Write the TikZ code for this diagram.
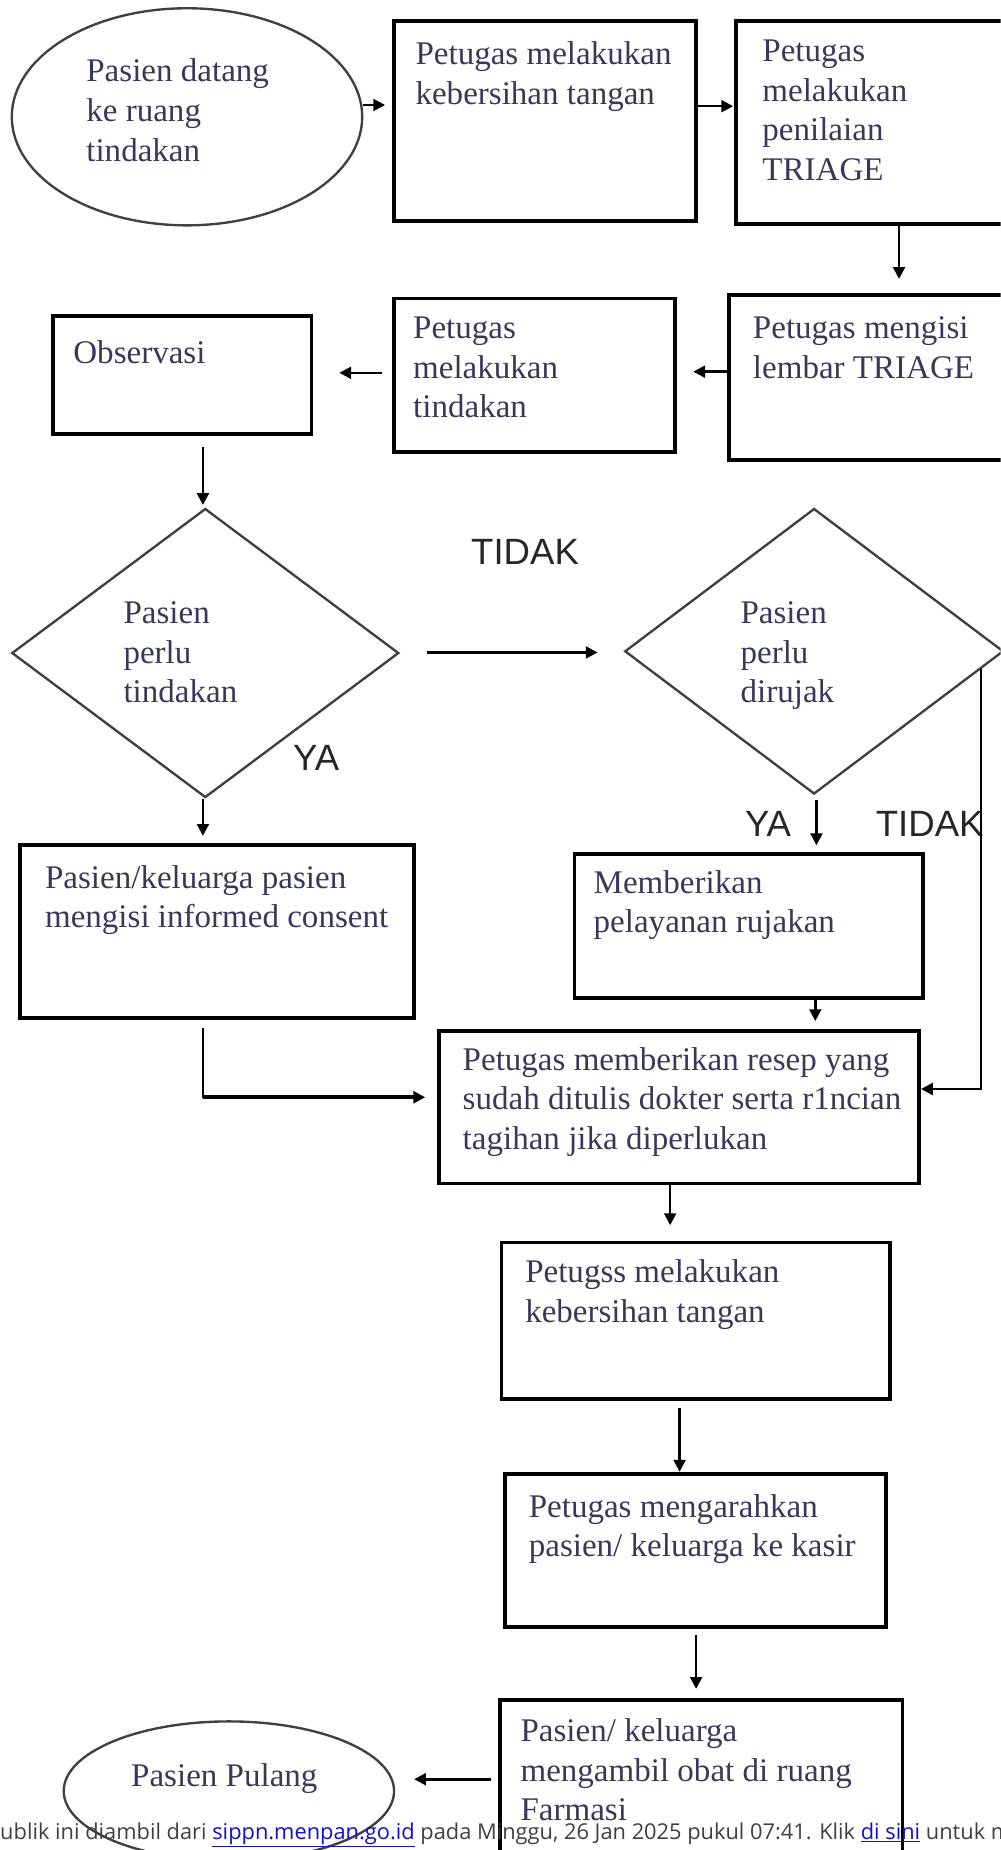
\documentclass[tikz,border=0pt]{standalone}
\usepackage{fontspec}
\setmainfont{Liberation Serif}
\newfontfamily\arialf{Liberation Sans}
\newfontfamily\footf{Open Sans}
\usetikzlibrary{shapes.geometric,arrows.meta,calc}
\definecolor{txtc}{HTML}{38385A}
\definecolor{linkc}{HTML}{1010CC}
\newcommand\ml[1]{\vtop{\halign{##\hfil\cr#1\crcr}}}
\begin{document}
\begin{tikzpicture}[x=1pt,y=-1pt,
 box/.style={draw=black,line width=3.2pt,rectangle,inner sep=0pt},
 oval/.style={draw=black!75,line width=2pt,ellipse,inner sep=0pt},
 dia/.style={draw=black!75,line width=2pt,diamond,inner sep=0pt},
 txt/.style={text=txtc,font=\fontsize{28}{33.5}\selectfont,anchor=base west,inner sep=0pt},
 lab/.style={text=black!85,font=\arialf\fontsize{31}{36}\selectfont,inner sep=0pt},
 arr/.style={line width=2.2pt,-{Triangle[length=10pt,width=10pt]}}]
\useasboundingbox (0,0) rectangle (848,1568);
\clip (0,0) rectangle (848,1568);
% shapes
\node[oval,minimum width=297pt,minimum height=184pt] (e1) at (158.5,99) {};
\node[box,minimum width=256pt,minimum height=169pt] (b2) at (462,102.5) {};
\node[box,minimum width=246pt,minimum height=172pt] (b3) at (747,104) {};
\node[box,minimum width=252pt,minimum height=140pt] (b4) at (744,320) {};
\node[box,minimum width=238pt,minimum height=130pt] (b5) at (453,318) {};
\node[box,minimum width=219pt,minimum height=100pt] (b6) at (154.5,318) {};
\node[dia,minimum width=328pt,minimum height=245pt] (d1) at (174,553.5) {};
\node[dia,minimum width=321pt,minimum height=242pt] (d2) at (690,552) {};
\node[box,minimum width=334pt,minimum height=147pt] (b9) at (184,789.5) {};
\node[box,minimum width=295pt,minimum height=122pt] (b7) at (634.5,785) {};
\node[box,minimum width=407pt,minimum height=129pt] (b8) at (575.5,938.5) {};
\node[box,minimum width=329pt,minimum height=133pt] (b10) at (589.5,1119.5) {};
\node[box,minimum width=323pt,minimum height=130pt] (b11) at (589.5,1314) {};
\node[box,minimum width=341pt,minimum height=160pt] (b12) at (594.5,1521) {};
\node[oval,minimum width=280pt,minimum height=118pt] (e2) at (194,1518) {};
% texts
\node[txt] (t1) at (73,69.5) {\ml{Pasien datang\cr ke ruang\cr tindakan}};
\node[txt] (t2) at (352,55) {\ml{Petugas melakukan\cr kebersihan tangan}};
\node[txt] (t3) at (646,52.5) {\ml{Petugas\cr melakukan\cr penilaian\cr TRIAGE}};
\node[txt] (t4) at (638,287) {\ml{Petugas mengisi\cr lembar TRIAGE}};
\node[txt] (t5) at (350,287) {\ml{Petugas\cr melakukan\cr tindakan}};
\node[txt] (t6) at (62,308) {Observasi};
\node[txt] (t7) at (104.5,528.6) {\ml{Pasien\cr perlu\cr tindakan}};
\node[txt] (t8) at (627.5,528.6) {\ml{Pasien\cr perlu\cr dirujak}};
\node[txt] (t9) at (38,753) {\ml{Pasien/keluarga pasien\cr mengisi informed consent}};
\node[txt] (t10) at (503,757) {\ml{Memberikan\cr pelayanan rujakan}};
\node[txt] (t11) at (392,907) {\ml{Petugas memberikan resep yang\cr sudah ditulis dokter serta r1ncian\cr tagihan jika diperlukan}};
\node[txt] (t12) at (445,1087) {\ml{Petugss melakukan\cr kebersihan tangan}};
\node[txt] (t13) at (448,1286) {\ml{Petugas mengarahkan\cr pasien/ keluarga ke kasir}};
\node[txt] (t14) at (441,1476) {\ml{Pasien/ keluarga\cr mengambil obat di ruang\cr Farmasi}};
\node[txt] (t15) at (111,1514) {Pasien Pulang};
% labels
\node[lab] (l1) at (445,468) {TIDAK};
\node[lab] (l2) at (268,642) {YA};
\node[lab] (l3) at (651,698) {YA};
\node[lab] (l4) at (788,698) {TIDAK};
% connectors
\draw[arr,shorten >=6pt] (e1.east |- 0,89) -- (b2.west |- 0,89);
\draw[arr,shorten >=1pt] (b2.east |- 0,90) -- (b3.west |- 0,90);
\draw[arr,shorten >=12pt] (b3.south -| 762,0) -- (b4.north -| 762,0);
\draw[arr,shorten >=14pt] (b4.west |- 0,315) -- (b5.east |- 0,315);
\draw[arr,shorten <=9pt,shorten >=22pt] (b5.west |- 0,316) -- (b6.east |- 0,316);
\draw[arr,shorten <=9pt,shorten >=2pt] (b6.south -| 172,0) -- (d1.north -| 172,0);
\draw[arr,shorten <=23pt,shorten >=22pt] (d1.east |- 0,553) -- (d2.west |- 0,553);
\draw[arr,shorten >=6pt] (d1.south -| 172,0) -- (b9.north -| 172,0);
\draw[arr,shorten <=4pt,shorten >=6pt] (d2.south -| 692,0) -- (b7.north -| 692,0);
\coordinate (tk) at ($(d2.east)!0.125!(d2.south)$);
\draw[arr] (tk) -- (tk |- 0,923) -- (b8.east |- 0,923);
\draw[arr,shorten >=7pt] (b7.south -| 691,0) -- (b8.north -| 691,0);
\coordinate (cc) at (b9.south |- b8.west);
\draw[line width=2.2pt,shorten <=7pt] (b9.south -| 172,0) -- (172,931);
\draw[arr,line width=3.4pt,shorten >=10pt] (172,930) -- (b8.west |- 0,930);
\draw[arr,shorten >=13pt] (b8.south -| 568,0) -- (b10.north -| 568,0);
\draw[arr,shorten <=6pt] (b10.south -| 576,0) -- (b11.north -| 576,0);
\draw[arr,shorten <=5pt,shorten >=8pt] (b11.south -| 590,0) -- (b12.north -| 590,0);
\draw[arr,shorten <=6pt,shorten >=16pt] (b12.west |- 0,1508) -- (e2.east |- 0,1508);
% footer
\node[anchor=base west,font=\footf\fontsize{18.5}{22}\selectfont,text=black!75,inner sep=0pt] (foot) at (0,1559) {ublik ini diambil dari \textcolor{linkc}{\underline{sippn.menpan.go.id}} pada Minggu, 26 Jan 2025 pukul 07:41. Klik \textcolor{linkc}{\underline{di sini}} untuk melihat};
\end{tikzpicture}
\end{document}
